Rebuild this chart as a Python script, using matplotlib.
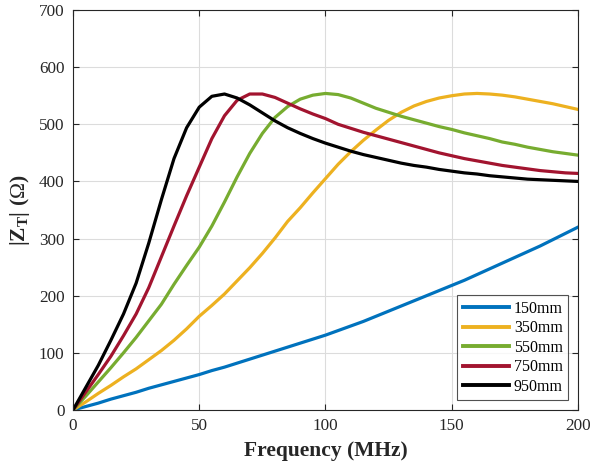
import numpy as np
import matplotlib
matplotlib.use('Agg')
import matplotlib.pyplot as plt

plt.rcParams['font.family'] = ['Liberation Serif', 'DejaVu Serif']
plt.rcParams['mathtext.fontset'] = 'custom'
plt.rcParams['mathtext.rm'] = 'Liberation Serif'
plt.rcParams['mathtext.bf'] = 'Liberation Serif:bold'

# Frequency grid (MHz), values every 5 MHz
freq = np.arange(0, 201, 5)

z_150 = [0, 6, 12, 19, 25, 31, 38, 44, 50, 56, 62, 69, 75, 82, 89, 96, 103, 110, 117, 124, 131,
         139, 147, 155, 164, 173, 182, 191, 200, 209, 218, 227, 237, 247, 257, 267, 277, 287, 298, 309, 320]
z_350 = [0, 14, 29, 43, 58, 72, 88, 104, 122, 142, 164, 183, 203, 226, 249, 274, 301, 330, 354, 380, 405,
         430, 452, 472, 490, 507, 521, 532, 540, 546, 550, 553, 554, 553, 551, 548, 544, 540, 536, 531, 526]
z_550 = [0, 24, 49, 74, 100, 127, 156, 185, 220, 253, 285, 322, 364, 408, 449, 484, 512, 531, 544, 551, 554,
         552, 546, 537, 528, 521, 514, 508, 502, 496, 491, 485, 480, 475, 469, 465, 460, 456, 452, 449, 446]
z_750 = [0, 31, 62, 94, 130, 168, 214, 268, 322, 375, 425, 475, 515, 542, 553, 553, 547, 537, 527, 518, 510,
         500, 493, 486, 480, 474, 468, 462, 456, 450, 445, 440, 436, 432, 428, 425, 422, 419, 417, 415, 414]
z_950 = [0, 39, 78, 122, 168, 222, 292, 368, 440, 494, 530, 549, 553, 546, 534, 520, 506, 494, 484, 475, 467,
         460, 453, 447, 442, 437, 432, 428, 425, 421, 418, 415, 413, 410, 408, 406, 404, 403, 402, 401, 400]

labels = ['150mm', '350mm', '550mm', '750mm', '950mm']
colors = ['#0072BD', '#EDB120', '#77AC30', '#A2142F', '#000000']

fig = plt.figure(figsize=(5.93, 4.66), dpi=100)
ax = fig.add_axes([0.1231, 0.1202, 0.8516, 0.8583])

for z, lab, c in zip([z_150, z_350, z_550, z_750, z_950], labels, colors):
    ax.plot(freq, z, color=c, lw=2.3, label=lab, solid_joinstyle='round')

ax.set_xlim(0, 200)
ax.set_ylim(0, 700)
ax.set_xticks([0, 50, 100, 150, 200])
ax.set_yticks(range(0, 701, 100))
ax.grid(True, color='#dcdcdc', lw=0.8)
ax.set_axisbelow(True)
ax.tick_params(direction='in', top=True, right=True, labelsize=12.3, length=4,
               color='#262626', labelcolor='#262626', pad=6)
for s in ax.spines.values():
    s.set_color('#262626')
    s.set_linewidth(0.8)

ax.set_xlabel('Frequency (MHz)', fontsize=15.5, fontweight='bold', color='#262626', labelpad=5)
ax.set_ylabel(r'|Z$_{\mathbf{T}}$| ($\Omega$)', fontsize=15.5, fontweight='bold', color='#262626', labelpad=5)

leg = ax.legend(loc='lower right', fontsize=11.5, frameon=True, fancybox=False, handlelength=2.9,
                labelspacing=0.22, borderpad=0.35, handletextpad=0.3, borderaxespad=0.6)
leg.get_frame().set_edgecolor('#262626')
leg.get_frame().set_linewidth(0.8)
for line in leg.get_lines():
    line.set_linewidth(2.8)

fig.savefig('out.png', dpi=100)
